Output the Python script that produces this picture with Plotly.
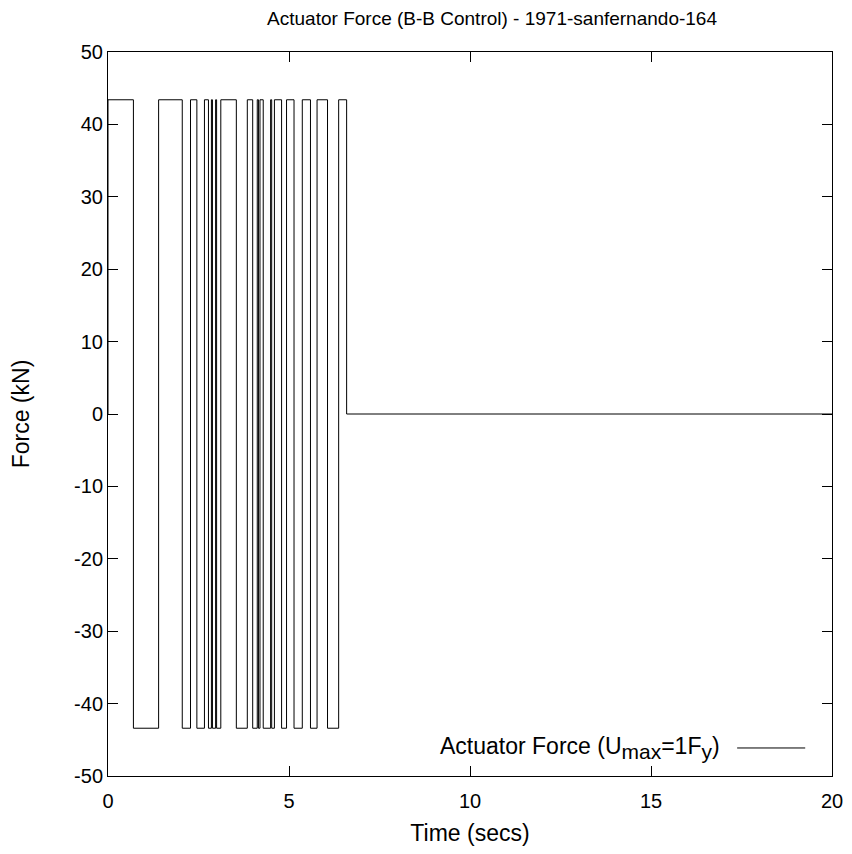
import plotly.graph_objects as go

# Switching times (s) of the bang-bang actuator force, alternating +Umax / -Umax
switch_times = [0.702, 1.398, 2.051, 2.279, 2.455, 2.664, 2.775, 2.857, 2.885,
                2.973, 3.000, 3.116, 3.545, 3.848, 3.997, 4.123, 4.156, 4.198,
                4.288, 4.492, 4.522, 4.597, 4.795, 4.932, 5.139, 5.367, 5.593,
                5.775, 6.064, 6.372]
off_time = 6.592
end_time = 20.0
u_max = 43.4

x_ticks = [0, 5, 10, 15, 20]
x_tick_labels = ["0", "5", "10", "15", "20"]
y_ticks = [-50, -40, -30, -20, -10, 0, 10, 20, 30, 40, 50]
y_tick_labels = ["-50", "-40", "-30", "-20", "-10", "0", "10", "20", "30", "40", "50"]

# Build step signal from the switching times
t = [0.0, 0.0]
f = [0.0, u_max]
level = u_max
for s in switch_times:
    t += [s, s]
    f += [level, -level]
    level = -level
t += [off_time, off_time, end_time]
f += [level, 0.0, 0.0]

fig = go.Figure()
fig.add_trace(go.Scatter(x=t, y=f, mode="lines",
                         line=dict(color="black", width=1),
                         name="Actuator Force (U<sub>max</sub>=1F<sub>y</sub>)",
                         showlegend=False))

font_family = "Liberation Sans, Arial, sans-serif"
# page has an 8px body margin: figure origin at (8, 8)
fig.update_layout(
    width=836, height=838,
    margin=dict(l=100, r=12, t=44, b=70, autoexpand=False),
    paper_bgcolor="white", plot_bgcolor="white",
    font=dict(family=font_family, size=20, color="black"),
    title=dict(text="Actuator Force (B-B Control) - 1971-sanfernando-164",
               x=0.579, xanchor="center", y=0.988, yanchor="middle",
               font=dict(size=19, family=font_family)),
)
axis_common = dict(showline=True, linecolor="black", linewidth=1, mirror="ticks",
                   ticks="inside", ticklen=10, tickcolor="black", showgrid=False,
                   zeroline=False, tickfont=dict(size=20), automargin=False)
fig.update_xaxes(range=[0, 20], tickvals=x_ticks, ticktext=x_tick_labels,
                 ticklabelstandoff=7,
                 title=dict(text="Time (secs)", font=dict(size=23), standoff=21),
                 **axis_common)
fig.update_yaxes(range=[-50, 50], tickvals=y_ticks, ticktext=y_tick_labels,
                 title=dict(text="Force (kN)", font=dict(size=23), standoff=38),
                 **axis_common)

# Legend in gnuplot style: text followed by line sample
fig.add_annotation(xref="paper", yref="paper", x=0.848, y=0.0387,
                   xanchor="right", yanchor="middle", showarrow=False,
                   text=("Actuator Force (U<sub><span style='font-size:21px'>max</span></sub>"
                         "=1F<sub><span style='font-size:21px'>y</span></sub>)"),
                   font=dict(size=23, family=font_family))
fig.add_shape(type="line", xref="paper", yref="paper",
              x0=0.869, x1=0.963, y0=0.0387, y1=0.0387,
              line=dict(color="black", width=1))

fig.write_html("out.html")
